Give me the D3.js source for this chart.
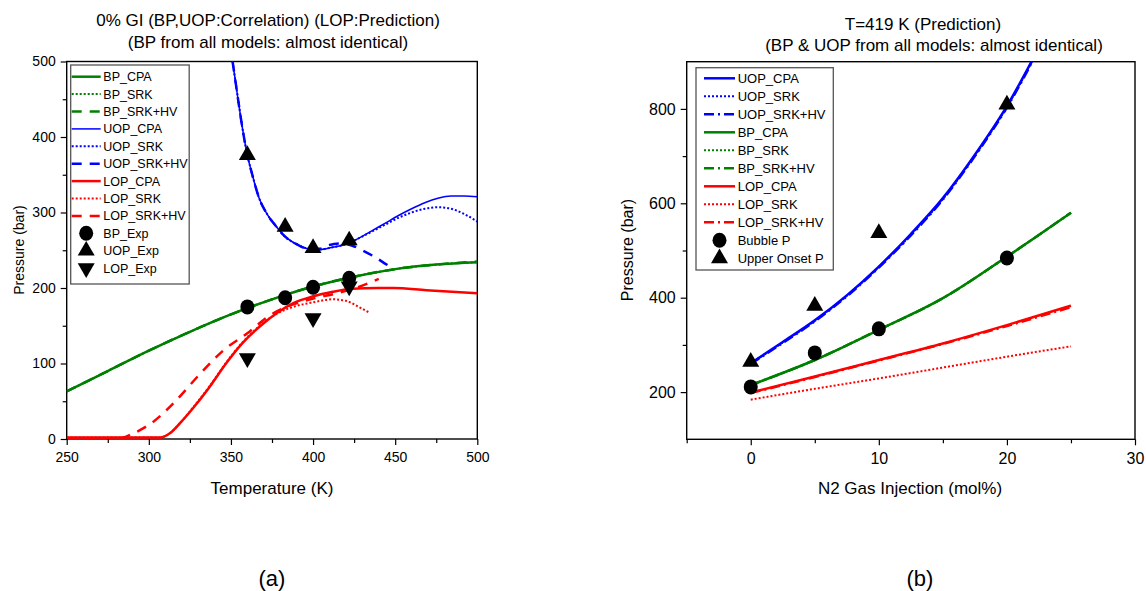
<!DOCTYPE html>
<html><head><meta charset="utf-8">
<script src="https://cdn.jsdelivr.net/npm/d3@7"></script>
<style>
body{margin:0;background:#fff;}
svg{font-family:"Liberation Sans",Arial,sans-serif;}
</style></head>
<body><svg id="c" width="1146" height="591"></svg>
<script>
// ---------- Panel (a) data ----------
const tempBP   = [250,275,300,325,350,375,400,425,450,475,500];
const bpCPA_a  = [63,90,117,142,165,185,202,215,225,231,234];
const bpSRK_a  = [63,90,117,142,165,185,202,215,225,231,234];
const bpHV_a   = [63,90,117,142,165,185,202,215,225,231,235];

const uopT_cpa = [351,353,355,357.5,360,363,367,372,377,383,390,397,404,412,420,428,436,444,452,460,468,476,484,492,500];
const uopCPA_a = [500,470,440,405,376,350,320,298,283,268,258,252,251,254,258,266,276,286,296,305,313,319,322,322,321];
const uopT_srk = [351,353,355,357.5,360,363,367,372,377,383,390,397,404,412,420,428,436,444,452,460,468,476,484,492,500];
const uopSRK_a = [500,470,440,405,376,350,320,298,283,268,258,252,251,254,258,266,275,284,293,300,305,307,305,298,288];
const uopT_hv  = [351,353,355,357.5,360,363,367,372,377,383,390,397,404,410,418,424,430,436,442,449];
const uopHV_a  = [500,470,440,405,376,350,320,298,283,268,258,252,252,257,259,256,250,243,235,225];

const lopT_cpa = [250,280,300,307,313,319,327,337,347,357,367,378,388,400,412,424,439,449,469,500];
const lopCPA_a = [2,2,2,2,8,21,41,69,100,127,148,167,180,189,195,199,200,200,197,193];
const lopT_srk = [250,280,300,307,313,319,327,337,347,357,367,378,388,400,412,420,428.6,434.7];
const lopSRK_a = [2,2,2,2,8,21,42,70,101,128,149,166,175,181,185,183,174,167];
const lopT_hv  = [250,282,290.6,302.8,317,331.5,345.8,360,373.8,384,400,414.4,428.6,440];
const lopHV_a  = [1,1,7.5,23,52,87,118,140,164,175,186,193,202,212];

const expT_a   = [360,383,400,422];
const bpExp_a  = [175,187,201,213];
const uopExp_a = [376,281,253,263];
const lopExp_a = [107,160,202];
const lopExpT_a= [360,400,422];

const xTicks_a = [250,300,350,400,450,500];
const yTicks_a = [0,100,200,300,400,500];

// ---------- Panel (b) data ----------
const n2U      = [0,2.5,5,7.5,10,12.5,15,17.5,20,22.5];
const uopCPA_b = [261,306,352,405,466,535,611,703,806,930];
const uopSRK_b = [261,305,351,404,465,533,609,701,804,928];
const uopHV_b  = [260,304,350,403,464,532,608,700,803,927];
const n2       = [0,5,10,15,20,25];
const bpCPA_b  = [215,268,332,399,487,580];
const bpSRK_b  = [215,268,332,399,487,580];
const bpHV_b   = [215,268,332,399,487,580];
const lopCPA_b = [199,233,268,303,342,383];
const lopSRK_b = [184,207,229,252,275,297];
const lopHV_b  = [198,232,267,302,340,380];
const n2Exp    = [0,5,10,20];
const bubbleP  = [211,283,334,484];
const upperOP  = [264,383,537,809];

const xTicks_b = [0,10,20,30];
const yTicks_b = [200,400,600,800];

// ---------- drawing ----------
const svg = d3.select('#c');
const GREEN='#008000', BLUE='#0000ff', RED='#ff0000';
const DOT='2,2', DASH='10,8', DASHDOT='10,4,2,4';
const zip=(xs,ys)=>xs.map((x,i)=>[x,ys[i]]);

function panel(o){
  const g = svg.append('g');
  const x=o.x, y=o.y;
  const [x0,x1]=x.range(), [y0,y1]=y.range();
  const cid='clip'+o.id;
  svg.append('clipPath').attr('id',cid).append('rect')
     .attr('x',x0).attr('y',y1).attr('width',x1-x0).attr('height',y0-y1);
  // axes
  const ax = g.append('g').attr('transform',`translate(0,${y0})`)
    .call(d3.axisBottom(x).tickValues(o.xt).tickSize(6).tickPadding(o.xpad).tickFormat(d3.format('d')));
  const axm = g.append('g').attr('transform',`translate(0,${y0})`)
    .call(d3.axisBottom(x).tickValues(o.xm).tickSize(4).tickFormat(''));
  const ay = g.append('g').attr('transform',`translate(${x0},0)`)
    .call(d3.axisLeft(y).tickValues(o.yt).tickSize(6).tickPadding(o.ypad).tickFormat(d3.format('d')));
  const aym = g.append('g').attr('transform',`translate(${x0},0)`)
    .call(d3.axisLeft(y).tickValues(o.ym).tickSize(4).tickFormat(''));
  [ax,axm,ay,aym].forEach(a=>{a.select('.domain').remove();a.selectAll('line').attr('stroke','#000').attr('stroke-width',1.2);
    a.selectAll('text').attr('font-size',o.fs).attr('fill','#000').attr('font-family','"Liberation Sans",Arial,sans-serif');});
  g.append('rect').attr('x',x0).attr('y',y1).attr('width',x1-x0).attr('height',y0-y1)
   .attr('fill','none').attr('stroke','#000').attr('stroke-width',1.4);
  const plot = g.append('g').attr('clip-path',`url(#${cid})`);
  o.lines.forEach(L=>{
    const gen=d3.line().x(d=>x(d[0])).y(d=>y(d[1])).curve(d3.curveMonotoneX);
    plot.append('path').attr('d',gen(zip(L.xs,L.ys))).attr('fill','none')
      .attr('stroke',L.c).attr('stroke-width',L.w).attr('stroke-dasharray',L.dash||null)
      .attr('stroke-linejoin','round');
  });
  o.marks.forEach(M=>{
    zip(M.xs,M.ys).forEach(p=>{
      drawMark(g, M.type, x(p[0]), y(p[1]));
    });
  });
  return g;
}
function drawMark(g,type,cx,cy){
  if(type==='circle'){
    g.append('ellipse').attr('cx',cx).attr('cy',cy).attr('rx',7).attr('ry',7.5).attr('fill','#000');
  } else {
    const s=d3.symbol().type(d3.symbolTriangle).size(125);
    g.append('path').attr('d',s()).attr('fill','#000')
     .attr('transform',`translate(${cx},${cy})`+(type==='down'?' rotate(180)':''));
  }
}
function legend(o){
  const g=svg.append('g');
  g.append('rect').attr('x',o.x).attr('y',o.y).attr('width',o.w).attr('height',o.h)
   .attr('fill','#fff').attr('stroke','#555').attr('stroke-width',1.3);
  o.items.forEach((it,i)=>{
    const yy=o.r0+i*o.dy;
    if(it.mark){ drawMark(g,it.mark,(o.lx0+o.lx1)/2,yy); }
    else g.append('line').attr('x1',o.lx0).attr('x2',o.lx1).attr('y1',yy).attr('y2',yy)
      .attr('stroke',it.c).attr('stroke-width',it.w).attr('stroke-dasharray',it.dash||null);
    g.append('text').attr('x',o.tx).attr('y',yy).attr('dy','0.36em').attr('font-size',o.fs).text(it.t);
  });
}

// Panel (a)
const xa=d3.scaleLinear([250,500],[66.7,477.3]);
const ya=d3.scaleLinear([0,500],[439,61.5]);
panel({id:'a',x:xa,y:ya,xt:xTicks_a,xm:[275,325,375,425,475],yt:yTicks_a,ym:[50,150,250,350,450],fs:14,xpad:7,ypad:5,
  lines:[
    {xs:tempBP,ys:bpSRK_a,c:GREEN,w:2,dash:DOT},
    {xs:tempBP,ys:bpHV_a,c:GREEN,w:2.5,dash:DASH},
    {xs:tempBP,ys:bpCPA_a,c:GREEN,w:2.5},
    {xs:uopT_srk,ys:uopSRK_a,c:BLUE,w:2,dash:DOT},
    {xs:uopT_hv,ys:uopHV_a,c:BLUE,w:2.5,dash:DASH},
    {xs:uopT_cpa,ys:uopCPA_a,c:BLUE,w:1.5},
    {xs:lopT_srk,ys:lopSRK_a,c:RED,w:2,dash:DOT},
    {xs:lopT_hv,ys:lopHV_a,c:RED,w:2.5,dash:DASH},
    {xs:lopT_cpa,ys:lopCPA_a,c:RED,w:2.5},
  ],
  marks:[
    {type:'circle',xs:expT_a,ys:bpExp_a},
    {type:'up',xs:expT_a,ys:uopExp_a},
    {type:'down',xs:lopExpT_a,ys:lopExp_a},
  ]});
legend({x:70.7,y:65,w:118.5,h:219,r0:76.7,dy:17.4,lx0:71.7,lx1:100.7,tx:103.3,fs:12.5,items:[
  {t:'BP_CPA',c:GREEN,w:2.5},{t:'BP_SRK',c:GREEN,w:2,dash:DOT},{t:'BP_SRK+HV',c:GREEN,w:2.5,dash:DASH},
  {t:'UOP_CPA',c:BLUE,w:1.5},{t:'UOP_SRK',c:BLUE,w:2,dash:DOT},{t:'UOP_SRK+HV',c:BLUE,w:2.5,dash:DASH},
  {t:'LOP_CPA',c:RED,w:2.5},{t:'LOP_SRK',c:RED,w:2,dash:DOT},{t:'LOP_SRK+HV',c:RED,w:2.5,dash:DASH},
  {t:'BP_Exp',mark:'circle'},{t:'UOP_Exp',mark:'up'},{t:'LOP_Exp',mark:'down'}]});

// Panel (b)
const xb=d3.scaleLinear([-5,30],[686.7,1135]);
const yb=d3.scaleLinear([100,900],[439.3,61.7]);
panel({id:'b',x:xb,y:yb,xt:xTicks_b,xm:[-5,5,15,25],yt:yTicks_b,ym:[300,500,700],fs:16,xpad:7,ypad:5,
  lines:[
    {xs:n2,ys:lopSRK_b,c:RED,w:2,dash:DOT},
    {xs:n2,ys:lopHV_b,c:RED,w:2.5,dash:DASHDOT},
    {xs:n2,ys:lopCPA_b,c:RED,w:2.5},
    {xs:n2,ys:bpSRK_b,c:GREEN,w:2,dash:DOT},
    {xs:n2,ys:bpHV_b,c:GREEN,w:2.5,dash:DASHDOT},
    {xs:n2,ys:bpCPA_b,c:GREEN,w:2.5},
    {xs:n2U,ys:uopSRK_b,c:BLUE,w:2,dash:DOT},
    {xs:n2U,ys:uopHV_b,c:BLUE,w:2.5,dash:DASHDOT},
    {xs:n2U,ys:uopCPA_b,c:BLUE,w:2.5},
  ],
  marks:[
    {type:'circle',xs:n2Exp,ys:bubbleP},
    {type:'up',xs:n2Exp,ys:upperOP},
  ]});
legend({x:696,y:67.7,w:137.3,h:202.3,r0:78.3,dy:18,lx0:704,lx1:735,tx:737.7,fs:13,items:[
  {t:'UOP_CPA',c:BLUE,w:2.5},{t:'UOP_SRK',c:BLUE,w:2,dash:DOT},{t:'UOP_SRK+HV',c:BLUE,w:2.5,dash:DASHDOT},
  {t:'BP_CPA',c:GREEN,w:2.5},{t:'BP_SRK',c:GREEN,w:2,dash:DOT},{t:'BP_SRK+HV',c:GREEN,w:2.5,dash:DASHDOT},
  {t:'LOP_CPA',c:RED,w:2.5},{t:'LOP_SRK',c:RED,w:2,dash:DOT},{t:'LOP_SRK+HV',c:RED,w:2.5,dash:DASHDOT},
  {t:'Bubble P',mark:'circle'},{t:'Upper Onset P',mark:'up'}]});

// Texts
const T=(x,y,s,fs,rot)=>svg.append('text').attr('x',x).attr('y',y).attr('text-anchor','middle')
  .attr('font-size',fs).attr('transform',rot?`rotate(-90,${x},${y})`:null).text(s);
T(268,26,'0% GI (BP,UOP:Correlation) (LOP:Prediction)',17);
T(268,48,'(BP from all models: almost identical)',17);
T(923,30,'T=419 K (Prediction)',17);
T(934,51,'(BP & UOP from all models: almost identical)',17);
T(272,494,'Temperature (K)',17);
T(910,494,'N2 Gas Injection (mol%)',17);
T(24,250,'Pressure (bar)',14,true);
T(633,250,'Pressure (bar)',16,true);
T(272,586,'(a)',22);
T(920,586,'(b)',22);
</script></body></html>
